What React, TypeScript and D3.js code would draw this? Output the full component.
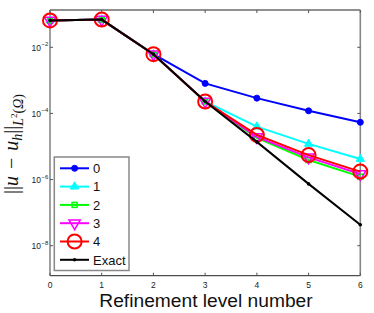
import { useRef, useEffect } from "react";
import * as d3 from "d3";

const levels = [0, 1, 2, 3, 4, 5, 6];
const err0 = [6.5e-2, 6.9e-2, 6.2e-3, 8.1e-4, 2.9e-4, 1.2e-4, 5.4e-5];
const err1 = [6.5e-2, 6.9e-2, 6.2e-3, 2.3e-4, 4.0e-5, 1.2e-5, 4.2e-6];
const err2 = [6.5e-2, 6.9e-2, 6.2e-3, 2.3e-4, 1.82e-5, 3.9e-6, 1.23e-6];
const err3 = [6.5e-2, 6.9e-2, 6.2e-3, 2.3e-4, 1.95e-5, 4.7e-6, 1.48e-6];
const err4 = [6.5e-2, 6.9e-2, 6.2e-3, 2.3e-4, 2.24e-5, 5.5e-6, 1.74e-6];
const errExact = [6.5e-2, 6.9e-2, 6.2e-3, 2.3e-4, 1.38e-5, 7.4e-7, 4.3e-8];
const seriesNames = ["0", "1", "2", "3", "4", "Exact"];
const yTickExps = [-2, -4, -6, -8];

export default function App() {
  const ref = useRef<SVGSVGElement>(null);

  useEffect(() => {
    if (!ref.current) return;
    const svg = d3.select(ref.current);
    svg.selectAll("*").remove();

    const L = 50,
      R = 360.3,
      T = 10,
      B = 275.7;
    const x = d3.scaleLinear().domain([0, 6]).range([L, R]);
    const y = d3
      .scaleLog()
      .domain([Math.pow(10, -8.907), Math.pow(10, -0.872)])
      .range([B, T]);

    svg.append("rect").attr("width", 374).attr("height", 313).attr("fill", "#fff");

    // axes box
    const ax = svg.append("g");
    ax.append("line").attr("x1", L).attr("x2", R).attr("y1", T).attr("y2", T).attr("stroke", "#222").attr("stroke-width", 1);
    ax.append("line").attr("x1", L).attr("x2", R).attr("y1", B).attr("y2", B).attr("stroke", "#222").attr("stroke-width", 1);
    ax.append("line").attr("x1", L).attr("x2", L).attr("y1", T).attr("y2", B).attr("stroke", "#888").attr("stroke-width", 1.6);
    ax.append("line").attr("x1", R).attr("x2", R).attr("y1", T).attr("y2", B).attr("stroke", "#888").attr("stroke-width", 1.6);

    levels.forEach((v) => {
      ax.append("line").attr("x1", x(v)).attr("x2", x(v)).attr("y1", B).attr("y2", B - 3).attr("stroke", "#555");
      ax.append("line").attr("x1", x(v)).attr("x2", x(v)).attr("y1", T).attr("y2", T + 3).attr("stroke", "#555");
      ax.append("text")
        .attr("x", x(v))
        .attr("y", B + 12)
        .attr("text-anchor", "middle")
        .attr("font-family", "Liberation Sans, Arial, sans-serif")
        .attr("font-size", 8.5)
        .attr("fill", "#222")
        .text(String(v));
    });

    yTickExps.forEach((e) => {
      const yy = y(Math.pow(10, e));
      ax.append("line").attr("x1", L).attr("x2", L + 3).attr("y1", yy).attr("y2", yy).attr("stroke", "#555");
      ax.append("line").attr("x1", R).attr("x2", R - 3).attr("y1", yy).attr("y2", yy).attr("stroke", "#555");
      ax.append("text")
        .attr("x", 41)
        .attr("y", yy + 3.5)
        .attr("text-anchor", "end")
        .attr("font-family", "Liberation Sans, Arial, sans-serif")
        .attr("font-size", 8.5)
        .attr("fill", "#222")
        .text("10");
      ax.append("text")
        .attr("x", 41.5)
        .attr("y", yy - 1)
        .attr("font-family", "Liberation Sans, Arial, sans-serif")
        .attr("font-size", 6)
        .attr("fill", "#222")
        .text(`\u2212${-e}`);
    });

    const series = [
      { data: err0, color: "#0000ff", marker: "dot" },
      { data: err1, color: "#00ffff", marker: "tri" },
      { data: err2, color: "#00ff00", marker: "sq" },
      { data: err3, color: "#ff00ff", marker: "tridown" },
      { data: err4, color: "#ff0000", marker: "circle" },
      { data: errExact, color: "#000000", marker: "small" },
    ];

    const line = d3
      .line<number>()
      .x((_, i) => x(levels[i]))
      .y((d) => y(d));

    const drawMarker = (g: any, m: string, color: string, cx: number, cy: number) => {
      if (m === "dot") {
        g.append("circle").attr("cx", cx).attr("cy", cy).attr("r", 3).attr("fill", color).attr("stroke", color);
      } else if (m === "tri") {
        g.append("path")
          .attr("d", d3.symbol(d3.symbolTriangle, 30)())
          .attr("transform", `translate(${cx},${cy})`)
          .attr("fill", color)
          .attr("stroke", color);
      } else if (m === "sq") {
        g.append("rect").attr("x", cx - 2.5).attr("y", cy - 2.5).attr("width", 5).attr("height", 5).attr("fill", "none").attr("stroke", color).attr("stroke-width", 1.5);
      } else if (m === "tridown") {
        g.append("path")
          .attr("d", d3.symbol(d3.symbolTriangle, 55)())
          .attr("transform", `translate(${cx},${cy}) rotate(180)`)
          .attr("fill", "none")
          .attr("stroke", color)
          .attr("stroke-width", 1.5);
      } else if (m === "circle") {
        g.append("circle").attr("cx", cx).attr("cy", cy).attr("r", 7).attr("fill", "none").attr("stroke", color).attr("stroke-width", 2);
      } else {
        g.append("circle").attr("cx", cx).attr("cy", cy).attr("r", 1.8).attr("fill", color);
      }
    };

    const plot = svg.append("g");
    series.forEach((s) => {
      const g = plot.append("g");
      g.append("path")
        .attr("d", line(s.data))
        .attr("fill", "none")
        .attr("stroke", s.color)
        .attr("stroke-width", 2);
      s.data.forEach((d, i) => drawMarker(g, s.marker, s.color, x(levels[i]), y(d)));
    });

    // legend
    const lg = svg.append("g");
    lg.append("rect")
      .attr("x", 54.3)
      .attr("y", 157)
      .attr("width", 74.7)
      .attr("height", 113.5)
      .attr("fill", "#fff")
      .attr("stroke", "#888")
      .attr("stroke-width", 1.5);
    seriesNames.forEach((name, i) => {
      const yy = 168.3 + i * 18.3;
      const s = series[i];
      lg.append("line").attr("x1", 60).attr("x2", 89).attr("y1", yy).attr("y2", yy).attr("stroke", s.color).attr("stroke-width", 2);
      drawMarker(lg, s.marker, s.color, 74.6, yy);
      lg.append("text")
        .attr("x", 93)
        .attr("y", yy + 4.7)
        .attr("font-family", "Liberation Sans, Arial, sans-serif")
        .attr("font-size", 13)
        .attr("fill", "#111")
        .text(name);
    });

    // x label
    svg.append("text")
      .attr("x", (99 + 313) / 2)
      .attr("y", 307)
      .attr("text-anchor", "middle")
      .attr("font-family", "Liberation Sans, Arial, sans-serif")
      .attr("font-size", 19.2)
      .attr("fill", "#111")
      .text("Refinement level number");

    // y label
    const yl = svg
      .append("text")
      .attr("transform", `translate(18,144) rotate(-90)`)
      .attr("text-anchor", "middle")
      .attr("font-family", "Liberation Serif, DejaVu Serif, serif")
      .attr("font-size", 20)
      .attr("fill", "#111");
    yl.append("tspan").text("||");
    yl.append("tspan").attr("font-style", "italic").text("u");
    yl.append("tspan").attr("dx", 2).text(" \u2212 ");
    yl.append("tspan").attr("dx", 2).attr("font-style", "italic").text("u");
    yl.append("tspan").attr("font-style", "italic").attr("font-size", 14).attr("dy", 4).text("h");
    yl.append("tspan").attr("dy", -4).text("||");
    yl.append("tspan").attr("font-style", "italic").attr("font-size", 14).attr("dy", 5).text("L");
    yl.append("tspan").attr("font-size", 9).attr("dy", -6).text("2");
    yl.append("tspan").attr("font-size", 14).attr("dy", 6).text("(");
    yl.append("tspan").attr("font-style", "italic").attr("font-size", 14).text("\u03A9");
    yl.append("tspan").attr("font-size", 14).text(")");
  }, []);

  return (
    <svg
      ref={ref}
      width={374}
      height={313}
      style={{ display: "block", position: "absolute", left: 0, top: 0 }}
    />
  );
}
